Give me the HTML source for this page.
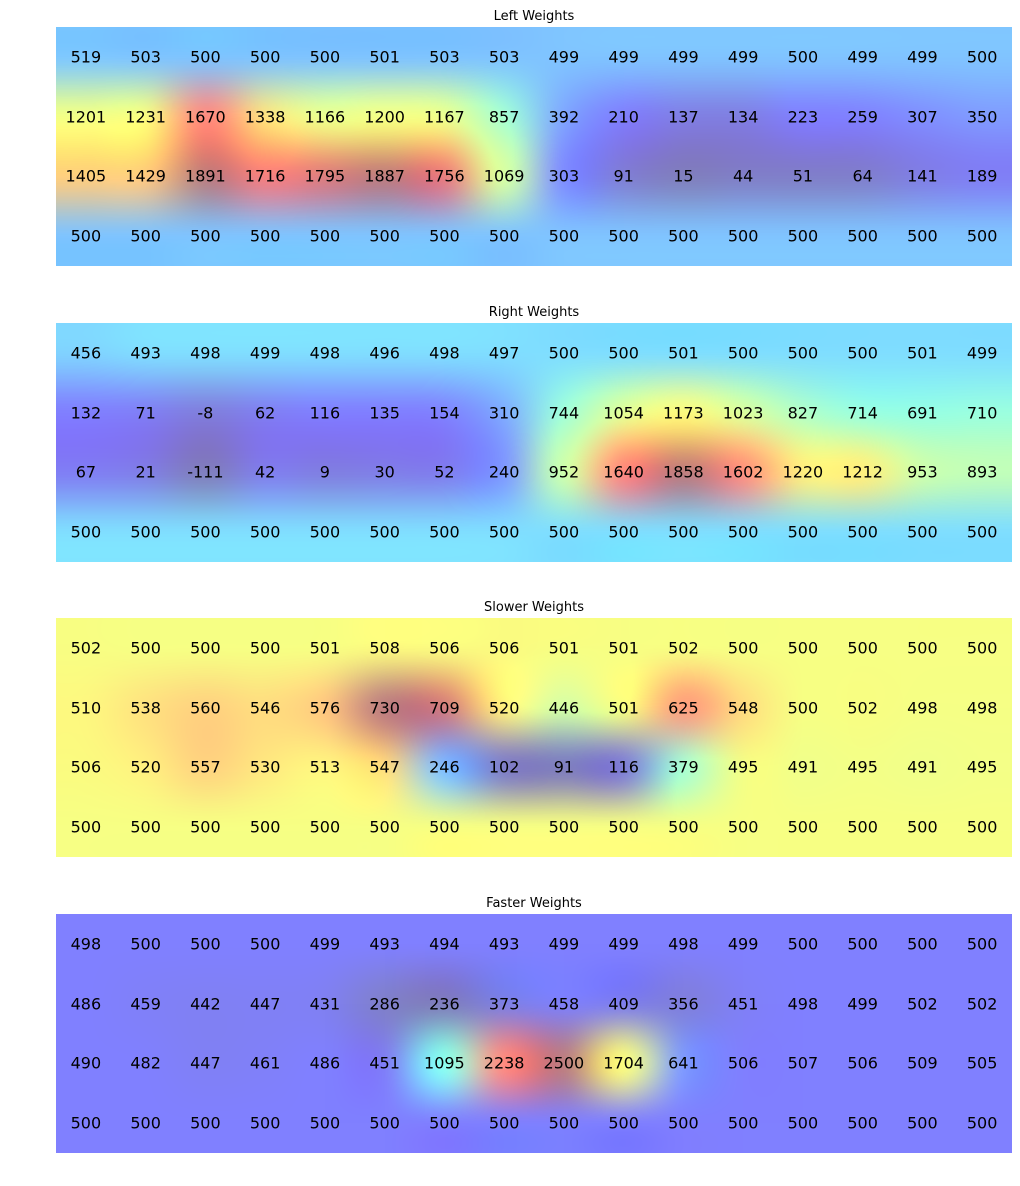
<!DOCTYPE html>
<html><head><meta charset="utf-8">
<style>
body{margin:0;background:#fff;width:1020px;height:1186px;position:relative;overflow:hidden;font-family:"DejaVu Sans","Liberation Sans",sans-serif}
canvas{position:absolute}
.t{position:absolute;font-size:13px;color:#000;transform:translateX(-50%);white-space:nowrap}
.v{position:absolute;font-size:16px;color:#000;transform:translate(-50%,-50%);white-space:nowrap}
</style></head><body>
<script>
const titles=["Left Weights","Right Weights","Slower Weights","Faster Weights"];
const leftW=[[519,503,500,500,500,501,503,503,499,499,499,499,500,499,499,500],
[1201,1231,1670,1338,1166,1200,1167,857,392,210,137,134,223,259,307,350],
[1405,1429,1891,1716,1795,1887,1756,1069,303,91,15,44,51,64,141,189],
[500,500,500,500,500,500,500,500,500,500,500,500,500,500,500,500]];
const rightW=[[456,493,498,499,498,496,498,497,500,500,501,500,500,500,501,499],
[132,71,-8,62,116,135,154,310,744,1054,1173,1023,827,714,691,710],
[67,21,-111,42,9,30,52,240,952,1640,1858,1602,1220,1212,953,893],
[500,500,500,500,500,500,500,500,500,500,500,500,500,500,500,500]];
const slowerW=[[502,500,500,500,501,508,506,506,501,501,502,500,500,500,500,500],
[510,538,560,546,576,730,709,520,446,501,625,548,500,502,498,498],
[506,520,557,530,513,547,246,102,91,116,379,495,491,495,491,495],
[500,500,500,500,500,500,500,500,500,500,500,500,500,500,500,500]];
const fasterW=[[498,500,500,500,499,493,494,493,499,499,498,499,500,500,500,500],
[486,459,442,447,431,286,236,373,458,409,356,451,498,499,502,502],
[490,482,447,461,486,451,1095,2238,2500,1704,641,506,507,506,509,505],
[500,500,500,500,500,500,500,500,500,500,500,500,500,500,500,500]];
const panels=[leftW,rightW,slowerW,fasterW];
</script>
<script>
const X0=56,W=956,H=239,tops=[27,323,618,914];
function seg(p,x){for(let i=1;i<p.length;i++){if(x<=p[i][0]){const a=p[i-1],b=p[i];return a[1]+(b[1]-a[1])*(x-a[0])/(b[0]-a[0]);}}return p[p.length-1][1];}
const R=[[0,0],[0.35,0],[0.66,1],[0.89,1],[1,0.5]],G=[[0,0],[0.125,0],[0.375,1],[0.64,1],[0.91,0],[1,0]],B=[[0,0.5],[0.11,1],[0.34,1],[0.65,0],[1,0]];
function jet(t){t=Math.max(0,Math.min(1,t));return [seg(R,t),seg(G,t),seg(B,t)].map(c=>255-(255-c*255)*0.5);}
function cub(p0,p1,p2,p3,t){return p1+0.5*t*(p2-p0+t*(2*p0-5*p1+4*p2-p3+t*(3*(p1-p2)+p3-p0)));}
panels.forEach((d,k)=>{
  const rows=d.length,cols=d[0].length;
  let mn=Infinity,mx=-Infinity;d.forEach(r=>r.forEach(v=>{mn=Math.min(mn,v);mx=Math.max(mx,v);}));
  const col=d.map(r=>r.map(v=>jet((v-mn)/(mx-mn))));
  const cv=document.createElement('canvas');cv.width=W;cv.height=H;
  cv.style.left=X0+'px';cv.style.top=tops[k]+'px';
  
  
  document.body.appendChild(cv);
  const ctx=cv.getContext('2d'),img=ctx.createImageData(W,H);
  const cw=W/cols,ch=H/rows;
  const g=(r,c)=>col[Math.max(0,Math.min(rows-1,r))][Math.max(0,Math.min(cols-1,c))];
  for(let y=0;y<H;y++){const v=(y+0.5)/ch-0.5,r0=Math.floor(v),ty=v-r0;
    for(let x=0;x<W;x++){const u=(x+0.5)/cw-0.5,c0=Math.floor(u),tx=u-c0;
      const o=(y*W+x)*4;
      for(let ch3=0;ch3<3;ch3++){
        const rr=[];for(let j=-1;j<3;j++)rr.push(cub(g(r0+j,c0-1)[ch3],g(r0+j,c0)[ch3],g(r0+j,c0+1)[ch3],g(r0+j,c0+2)[ch3],tx));
        img.data[o+ch3]=Math.max(0,Math.min(255,cub(rr[0],rr[1],rr[2],rr[3],ty)));
      }
      img.data[o+3]=255;}}
  ctx.putImageData(img,0,0);
  const t=document.createElement('div');t.className='t';t.textContent=titles[k];
  t.style.left=(X0+W/2)+'px';t.style.top=(tops[k]-18)+'px';
  
  
  document.body.appendChild(t);
  d.forEach((r,i)=>r.forEach((v,j)=>{
    const e=document.createElement('div');e.className='v';e.textContent=v;
    e.style.left=(X0+cw*(j+0.5))+'px';e.style.top=(tops[k]+ch*(i+0.5))+'px';
    
    
    document.body.appendChild(e);
  }));
});
</script>
</body></html>
